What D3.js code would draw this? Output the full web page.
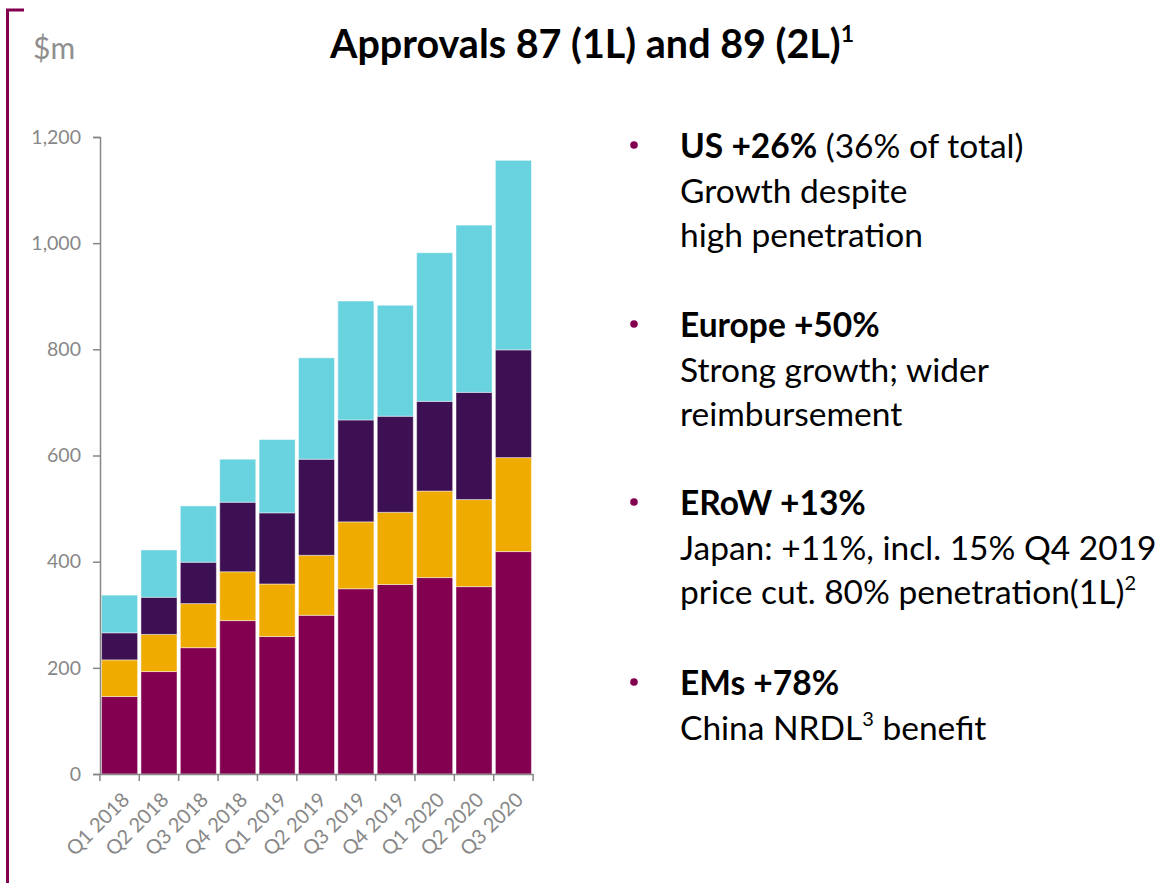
<!DOCTYPE html>
<html>
<head>
<meta charset="utf-8">
<script src="https://cdn.jsdelivr.net/npm/d3@7"></script>
<style>
  body { margin: 0; background: #fff; }
  svg { display: block; font-family: Lato, "Open Sans", sans-serif; }
</style>
</head>
<body>
<div id="chart"></div>
<script>
// quarters on the x axis
const quarters = [
  "Q1 2018", "Q2 2018", "Q3 2018", "Q4 2018",
  "Q1 2019", "Q2 2019", "Q3 2019", "Q4 2019",
  "Q1 2020", "Q2 2020", "Q3 2020",
];

// $m per region (bottom to top)
const us = [146, 193, 238, 289, 259, 299, 349, 357, 370, 353, 419];
const europe = [69, 70, 83, 92, 99, 113, 126, 136, 163, 164, 177];
const erow = [51, 70, 78, 131, 134, 181, 192, 181, 169, 202, 203];
const ems = [71, 89, 106, 81, 138, 191, 224, 209, 280, 315, 357];

const yTicks = [0, 200, 400, 600, 800, 1000, 1200];

const keys = ["us", "europe", "erow", "ems"];
const colors = {
  us: "#830051",
  europe: "#f0ab00",
  erow: "#3c1053",
  ems: "#68d2df",
};

const grey = "#878787";
const mulberry = "#830051";

const table = quarters.map((q, i) => ({
  quarter: q,
  us: us[i],
  europe: europe[i],
  erow: erow[i],
  ems: ems[i],
}));

const width = 1167,
  height = 883;

const svg = d3
  .select("#chart")
  .append("svg")
  .attr("width", width)
  .attr("height", height);

// left bracket
svg
  .append("path")
  .attr("d", "M24,10H7.5V883")
  .attr("fill", "none")
  .attr("stroke", mulberry)
  .attr("stroke-width", 3);

// unit label
svg
  .append("text")
  .attr("x", 33)
  .attr("y", 59)
  .attr("font-size", 30)
  .attr("fill", "#8f8f8f")
  .text("$m");

// title (second line)
const title = svg
  .append("text")
  .attr("x", 330)
  .attr("y", 58)
  .attr("font-size", 39.5)
  .attr("font-weight", "bold")
  .attr("fill", "#000");
title.append("tspan").text("Approvals 87 (1L) and 89 (2L)");
title
  .append("tspan")
  .attr("font-size", 23)
  .attr("dy", -16)
  .text("1");

// scales
const x = d3
  .scaleBand()
  .domain(quarters)
  .range([100, 533])
  .paddingInner(0.085)
  .paddingOuter(0.04);

const y = d3.scaleLinear().domain([0, 1200]).range([774, 137]);

const series = d3.stack().keys(keys)(table);

// bars
svg
  .append("g")
  .selectAll("g")
  .data(series)
  .join("g")
  .attr("fill", (d) => colors[d.key])
  .selectAll("rect")
  .data((d) => d)
  .join("rect")
  .attr("x", (d) => x(d.data.quarter))
  .attr("y", (d) => y(d[1]))
  .attr("width", x.bandwidth())
  .attr("height", (d) => y(d[0]) - y(d[1]))
  .attr("stroke", "#fff")
  .attr("stroke-opacity", 0.45)
  .attr("stroke-width", 1);

// y axis
const yAxis = svg
  .append("g")
  .attr("transform", "translate(100,0)")
  .call(
    d3
      .axisLeft(y)
      .tickValues(yTicks)
      .tickSize(7)
      .tickPadding(12)
      .tickFormat(d3.format(","))
  );
yAxis.select(".domain").attr("stroke", grey).attr("stroke-width", 1.5);
yAxis.selectAll(".tick line").attr("stroke", grey).attr("stroke-width", 1.5);
yAxis
  .selectAll(".tick text")
  .attr("fill", grey)
  .attr("font-size", 19.5)
  .attr("font-family", "Lato, sans-serif");

// x axis: labels under band centres, ticks on band edges
const xAxis = svg
  .append("g")
  .attr("transform", "translate(0,774)")
  .call(d3.axisBottom(x).tickSize(0).tickSizeOuter(0));
xAxis.select(".domain").attr("stroke", grey).attr("stroke-width", 1.5);
xAxis
  .selectAll(".tick text")
  .attr("fill", grey)
  .attr("font-size", 20)
  .attr("font-family", "Lato, sans-serif")
  .attr("text-anchor", "end")
  .attr("y", 0)
  .attr("dy", 0)
  .attr("transform", "translate(11,27) rotate(-45)");

const gap = (x.step() - x.bandwidth()) / 2;
const edges = quarters.map((q) => x(q) - gap).concat([x(quarters[10]) + x.bandwidth() + gap]);
xAxis
  .selectAll("line.edge")
  .data(edges)
  .join("line")
  .attr("class", "edge")
  .attr("x1", (d) => d)
  .attr("x2", (d) => d)
  .attr("y1", 0)
  .attr("y2", 7)
  .attr("stroke", grey)
  .attr("stroke-width", 1.5);

// commentary on the right
const notes = [
  { head: "US +26%", rest: " (36% of total)", lines: ["Growth despite", "high penetration"] },
  { head: "Europe +50%", rest: "", lines: ["Strong growth; wider", "reimbursement"] },
  { head: "ERoW +13%", rest: "", lines: ["Japan: +11%, incl. 15% Q4 2019", "price cut. 80% penetration(1L)|2"] },
  { head: "EMs +78%", rest: "", lines: ["China NRDL|3| benefit"] },
];
const noteTop = [158, 337, 515, 695];
const lineGap = 44.5;

const noteG = svg.append("g").attr("font-size", 33.5).attr("fill", "#000");

notes.forEach((n, i) => {
  const base = noteTop[i];
  noteG
    .append("circle")
    .attr("cx", 634)
    .attr("cy", base - 13)
    .attr("r", 3.8)
    .attr("fill", mulberry);

  const t = noteG.append("text").attr("x", 680).attr("y", base);
  t.append("tspan").attr("font-weight", "bold").text(n.head);
  if (n.rest) t.append("tspan").text(n.rest);

  n.lines.forEach((line, j) => {
    const lt = noteG
      .append("text")
      .attr("x", 680)
      .attr("y", base + lineGap * (j + 1));
    // "|" marks superscript pieces
    line.split("|").forEach((part, k) => {
      if (!part) return;
      if (k % 2 === 1) {
        lt.append("tspan").attr("font-size", 20).attr("dy", -14).text(part);
      } else {
        const sp = lt.append("tspan").text(part);
        if (k > 0) sp.attr("dy", 14);
      }
    });
  });
});
</script>
</body>
</html>
